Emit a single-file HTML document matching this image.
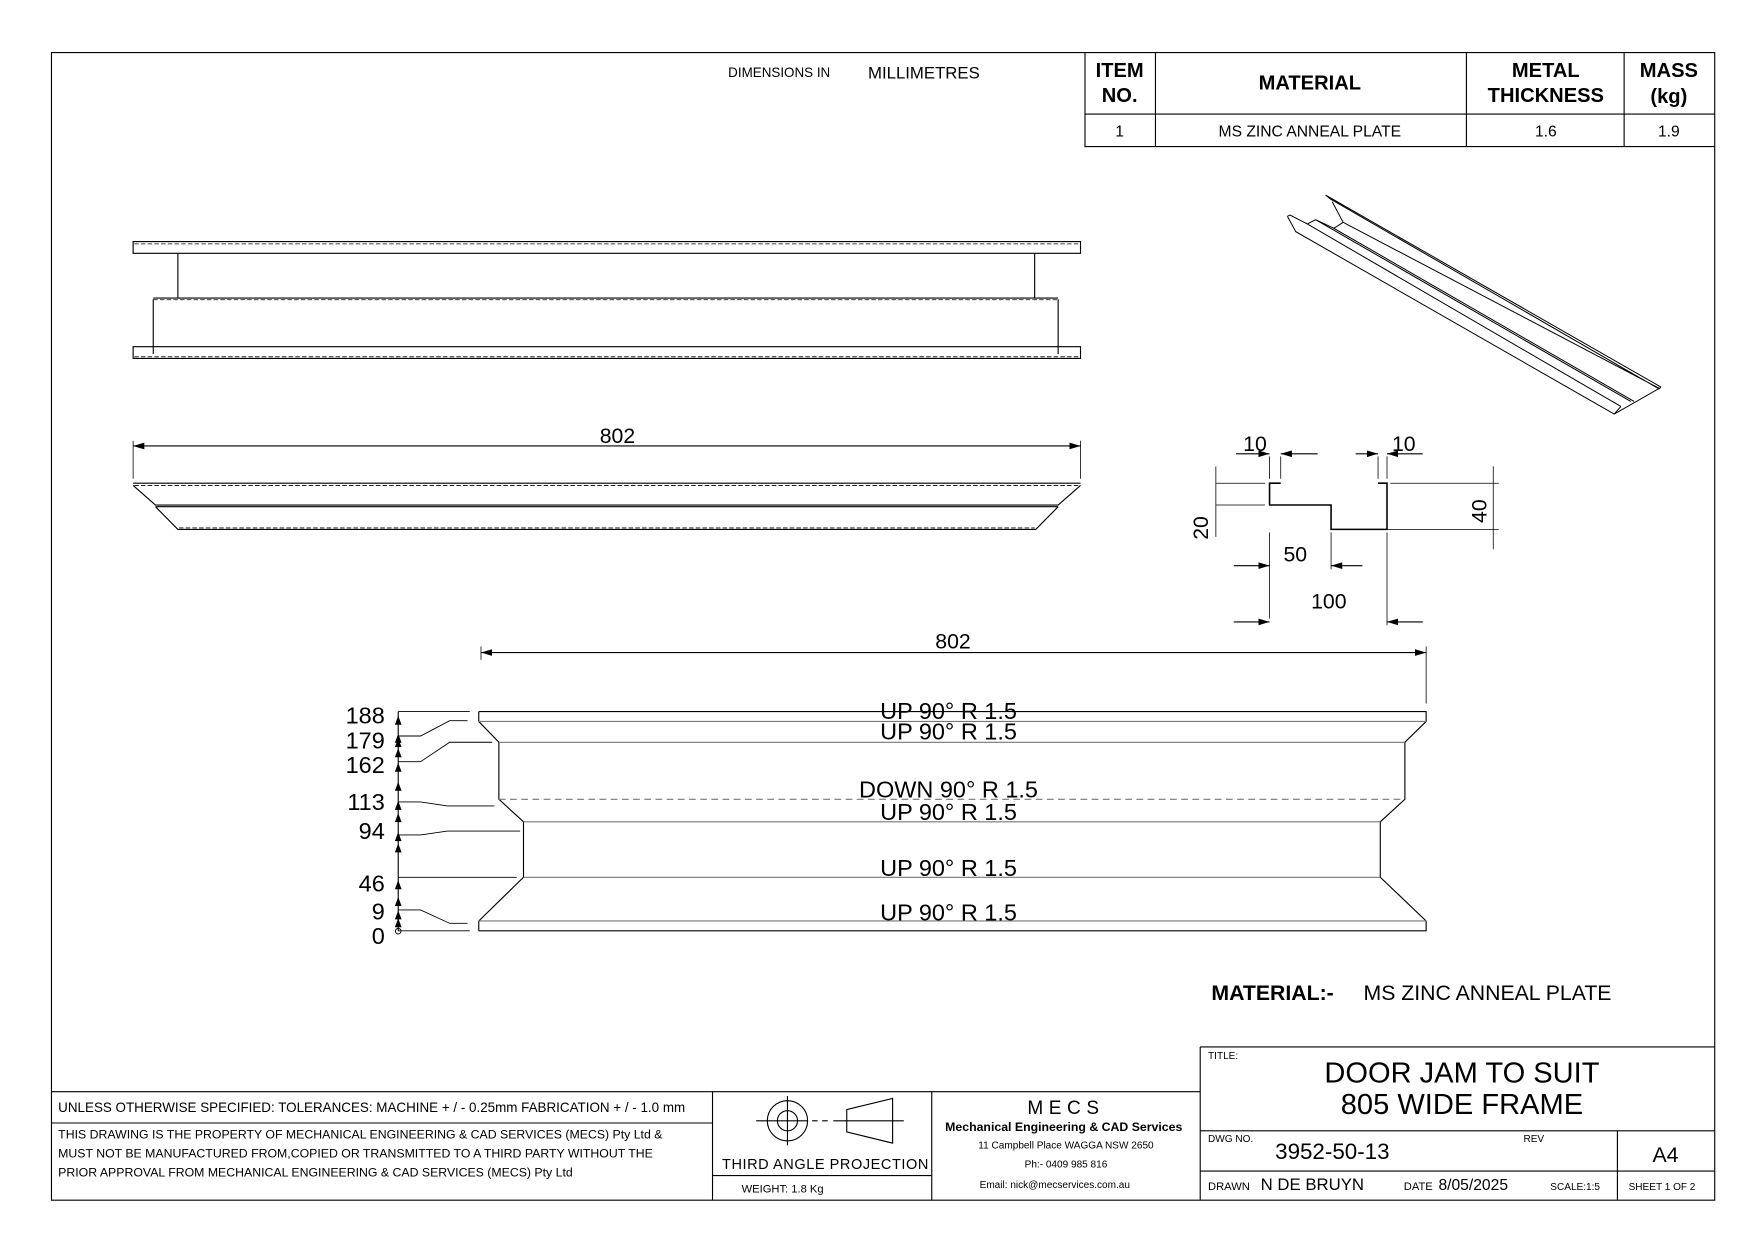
<!DOCTYPE html>
<html><head><meta charset="utf-8"><style>
html,body{margin:0;padding:0;background:#fff;}
svg{display:block;}
text{font-family:"Liberation Sans",sans-serif;fill:#000;}
</style></head><body>
<svg width="1753" height="1240" viewBox="0 0 1567.2 1108.6" xmlns="http://www.w3.org/2000/svg">
<defs>
<marker id="ar" viewBox="0 0 10 6" refX="10" refY="3" markerWidth="10" markerHeight="6" markerUnits="userSpaceOnUse" orient="auto-start-reverse"><path d="M0,0L10,3L0,6z" fill="#000"/></marker>
</defs>
<rect width="1568" height="1110" fill="#fff"/>
<g fill="none" stroke="#000" stroke-width="1">
<rect x="46" y="47" width="1487" height="1026"/>
<path d="M970,47V131H1533M970,102H1533M1033,47V131M1311,47V131M1452,47V131"/>
<path d="M119,216H966V226.5H119Z"/>
<path d="M159,226.5V266.5M925,226.5V266.5M137,266.5H946M137,267.5V316.5M946,267.5V316.5"/>
<path d="M119,310H966V320.5H119Z"/>
<path d="M120,218H965M137,268H946M120,319H965" stroke-dasharray="4,2" stroke-width="0.7"/>
<path d="M119,398.7H966" marker-start="url(#ar)" marker-end="url(#ar)"/>
<path d="M119,394V428M966,394V428" stroke-width="0.7"/>
<path d="M119,432H966M119,434L139,451.5H946L966,434M139,453L159,473.3H926L946,453M139,453H946"/>
<path d="M120,434H965M160,472H925" stroke-dasharray="4,2" stroke-width="0.7"/>
<path d="M1145,432H1135V451.5H1190V473.3H1240V432H1232" stroke-width="1.4"/>
<path d="M1087,432H1131M1243,432H1340M1087,451.5H1131M1194,473.3H1340M1135,408V428M1145,408V428M1232,408V428M1240,408V428M1135,476V553M1190,476V509M1240,476V559M1087,417V480M1335,417V491" stroke-width="0.7"/>
<path d="M1105,405.7H1135" marker-end="url(#ar)"/><path d="M1178,405.7H1145" marker-end="url(#ar)"/>
<path d="M1212,405.7H1232" marker-end="url(#ar)"/><path d="M1272,405.7H1240" marker-end="url(#ar)"/>
<path d="M1103,505.7H1135" marker-end="url(#ar)"/><path d="M1218,505.7H1190" marker-end="url(#ar)"/>
<path d="M1103,556H1135" marker-end="url(#ar)"/><path d="M1272,556H1240" marker-end="url(#ar)"/>
<g transform="translate(1139.1,169.1) scale(0.29664)">
<path vector-effect="non-scaling-stroke" d="M155,18L1165,596L1160,602L170,30L155,18M175,38L208,100L180,118L1085,640M208,100L1160,600M40,82L50,100L65,128L1025,678L1165,598M40,82L48,78L100,105L1045,655M100,105L125,92L180,118M125,92L1075,640M1025,678L1045,655"/>
</g>
<path d="M430,583.4H1275" marker-start="url(#ar)" marker-end="url(#ar)"/>
<path d="M1275,578V629M430,578V590" stroke-width="0.7"/>
<path d="M428,636.2H1275V645M428,636.2V645M428,832.2H1275V823.4M428,832.2V823.4"/>
<path d="M428,645L446,663.6V714.6L468,734.7V784.3L428,823.4M1275,645L1256,663.6V714.6L1234,734.7V784.3L1275,823.4"/>
<path d="M428,645H1275M446,663.6H1256M468,734.7H1234M468,784.3H1234M428,823.4H1275" stroke="#777"/>
<path d="M446,714.6H1256" stroke="#777" stroke-dasharray="6,4"/>
<path d="M356,636.2V832.2"/>
<g stroke-width="0.8">
<path d="M356,636.2H420"/>
<path d="M356,658H376L402,644.3H418"/>
<path d="M356,681H376L402,663.6H440"/>
<path d="M356,717H376L400,720.5H442"/>
<path d="M356,746.5H376L400,743H465"/>
<path d="M356,784.3H462"/>
<path d="M356,813.5H376L402,825.5H418"/>
<path d="M356,832.2H420"/>
</g>
<circle cx="356" cy="832.5" r="2.5" stroke-width="0.8"/>
<g fill="#000" stroke="none">
<path d="M353,648L356,640L359,648z M353,668L356,660L359,668z M353,690L356,682L359,690z M353,724L356,716L359,724z M353,752L356,744L359,752z M353,795L356,787L359,795z M353,822L356,814L359,822z M353,829L356,821L359,829z M353,664L356,656L359,664z M353,677L356,669L359,677z M353,707L356,699L359,707z M353,735L356,727L359,735z M353,762L356,754L359,762z M353,810L356,802L359,810z"/>
</g>
<path d="M46,976H1073M1073,936H1533M1073,936V1073M1073,1011H1533M1073,1047H1533M1446,1011V1073M46,1004H637M637,976V1073M833,976V1073M637,1051H833"/>
<circle cx="704" cy="1002" r="18"/><circle cx="704" cy="1002" r="9"/>
<path d="M676,1002H722M704,980V1024M757,992L798,982V1022L757,1012Z M745,1002H808"/>
<path d="M726,1002H742" stroke-dasharray="5,4"/>
</g>
<text x="651" y="69" font-size="12">DIMENSIONS IN</text>
<text x="776" y="70" font-size="15">MILLIMETRES</text>
<g font-weight="bold" font-size="18" text-anchor="middle">
<text x="1001" y="69">ITEM</text><text x="1001" y="91">NO.</text>
<text x="1171" y="80">MATERIAL</text>
<text x="1382" y="69">METAL</text><text x="1382" y="91">THICKNESS</text>
<text x="1492" y="69">MASS</text><text x="1492" y="92">(kg)</text>
</g>
<g font-size="14" text-anchor="middle">
<text x="1001" y="122">1</text><text x="1171" y="122">MS ZINC ANNEAL PLATE</text>
<text x="1382" y="122">1.6</text><text x="1492" y="122">1.9</text>
</g>
<g font-size="19" text-anchor="middle">
<text x="552" y="396">802</text>
<text x="852" y="580">802</text>
<text x="1122" y="403">10</text><text x="1255" y="403">10</text>
<text x="1158" y="502">50</text><text x="1188" y="544">100</text>
<text transform="translate(1080,472) rotate(-90)">20</text>
<text transform="translate(1329,457) rotate(-90)">40</text>
</g>
<g font-size="21" text-anchor="end">
<text x="344" y="647">188</text><text x="344" y="669">179</text><text x="344" y="691">162</text>
<text x="344" y="724">113</text><text x="344" y="750">94</text><text x="344" y="797">46</text>
<text x="344" y="822">9</text><text x="344" y="844">0</text>
</g>
<g font-size="21" text-anchor="middle" style="white-space:pre">
<text x="848" y="643">UP  90°  R 1.5</text>
<text x="848" y="661">UP  90°  R 1.5</text>
<text x="848" y="713">DOWN  90°  R 1.5</text>
<text x="848" y="733">UP  90°  R 1.5</text>
<text x="848" y="783">UP  90°  R 1.5</text>
<text x="848" y="823">UP  90°  R 1.5</text>
</g>
<text x="1083" y="894" font-size="19" font-weight="bold">MATERIAL:-</text>
<text x="1219" y="894" font-size="19">MS ZINC ANNEAL PLATE</text>
<text x="52" y="994" font-size="12">UNLESS OTHERWISE SPECIFIED: TOLERANCES: MACHINE + / - 0.25mm  FABRICATION + / - 1.0 mm</text>
<text x="52" y="1018" font-size="11">THIS DRAWING IS THE PROPERTY OF MECHANICAL ENGINEERING &amp; CAD SERVICES (MECS) Pty Ltd &amp;</text>
<text x="52" y="1035" font-size="11">MUST NOT BE MANUFACTURED FROM,COPIED OR TRANSMITTED TO A THIRD PARTY WITHOUT THE</text>
<text x="52" y="1052" font-size="11">PRIOR APPROVAL FROM MECHANICAL ENGINEERING &amp; CAD SERVICES (MECS) Pty Ltd</text>
<text x="738" y="1045" font-size="13" text-anchor="middle" letter-spacing="0.5">THIRD ANGLE PROJECTION</text>
<text x="663" y="1066" font-size="10">WEIGHT:  1.8 Kg</text>
<g text-anchor="middle">
<text x="953" y="996" font-size="17" letter-spacing="5">MECS</text>
<text x="951" y="1011" font-size="11" font-weight="bold">Mechanical Engineering &amp; CAD Services</text>
<text x="953" y="1027" font-size="9">11 Campbell Place WAGGA NSW 2650</text>
<text x="953" y="1044" font-size="9">Ph:- 0409 985 816</text>
<text x="943" y="1062" font-size="9">Email: nick@mecservices.com.au</text>
<text x="1307" y="968" font-size="26">DOOR JAM TO SUIT</text>
<text x="1307" y="996" font-size="26">805 WIDE FRAME</text>
<text x="1489" y="1039" font-size="19">A4</text>
</g>
<text x="1080" y="947" font-size="9">TITLE:</text>
<text x="1080" y="1021" font-size="9">DWG NO.</text>
<text x="1140" y="1036" font-size="20">3952-50-13</text>
<text x="1362" y="1021" font-size="9">REV</text>
<text x="1080" y="1064" font-size="10">DRAWN</text>
<text x="1127" y="1064" font-size="15">N DE BRUYN</text>
<text x="1255" y="1064" font-size="10">DATE</text>
<text x="1286" y="1064" font-size="14">8/05/2025</text>
<text x="1386" y="1064" font-size="9">SCALE:1:5</text>
<text x="1456" y="1064" font-size="9">SHEET 1 OF 2</text>
</svg>
</body></html>
